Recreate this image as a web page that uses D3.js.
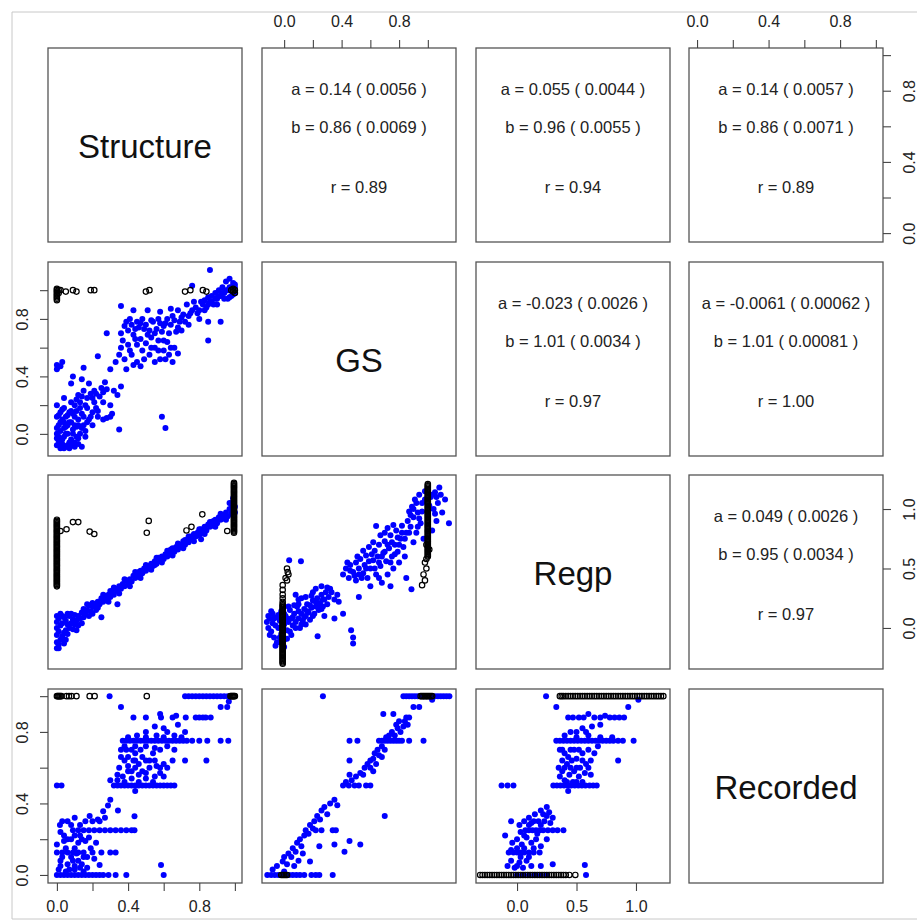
<!DOCTYPE html>
<html>
<head>
<meta charset="utf-8">
<script src="https://cdn.jsdelivr.net/npm/d3@7"></script>
<style>
  body { margin: 0; background: #fff; }
  text { font-family: "Liberation Sans", Arial, sans-serif; }
</style>
</head>
<body>
<div id="main"></div>
<script>
// variables of the pairs plot
const varNames = ["Structure", "GS", "Regp", "Recorded"];
const varDomains = [[-0.05, 1.04], [-0.154, 1.196], [-0.345, 1.286], [-0.045, 1.04]];
const ticks01 = [0, 0.2, 0.4, 0.6, 0.8, 1.0];
const labels01 = [0, 0.4, 0.8];
const ticksRegp = [0, 0.5, 1.0];

// regression text in the upper panels: [row, col, a, se(a), b, se(b), r]
const fitRows = [
  [0, 1, "0.14", "0.0056", "0.86", "0.0069", "0.89"],
  [0, 2, "0.055", "0.0044", "0.96", "0.0055", "0.94"],
  [0, 3, "0.14", "0.0057", "0.86", "0.0071", "0.89"],
  [1, 2, "-0.023", "0.0026", "1.01", "0.0034", "0.97"],
  [1, 3, "-0.0061", "0.00062", "1.01", "0.00081", "1.00"],
  [2, 3, "0.049", "0.0026", "0.95", "0.0034", "0.97"]
];

// helpers for runs of points that share one coordinate
const col = (x, ys) => ys.map(y => [x, y]);
const row = (y, xs) => xs.map(x => [x, y]);

// Structure (x) vs GS (y)
const sgBlue = [
  [0.00,-0.08],[0.01,-0.05],[0.02,-0.1],[0.03,-0.07],[0.05,-0.09],[0.0,0.0],[0.02,0.02],[0.04,-0.02],[0.06,0.0],
  [0.08,-0.04],[0.1,-0.06],[0.12,-0.03],[0.01,0.06],[0.03,0.1],[0.05,0.05],[0.07,0.08],[0.09,0.03],[0.11,0.05],
  [0.13,0.0],[0.0,0.12],[0.02,0.15],[0.04,0.18],[0.06,0.13],[0.08,0.16],[0.1,0.12],[0.12,0.1],[0.14,0.14],
  [0.15,0.06],[0.16,0.2],[0.13,0.22],[0.1,0.2],[0.07,-0.1],[0.14,-0.09],[0.0,-0.03],[0.04,0.08],[0.09,-0.08],
  [0.01,-0.02],[0.03,-0.04],[0.05,0.0],[0.07,-0.06],[0.09,0.0],[0.11,-0.02],[0.0,0.04],[0.02,0.08],[0.04,0.04],
  [0.06,0.06],[0.08,0.08],[0.1,0.06],[0.12,0.06],[0.14,0.04],[0.01,0.13],[0.03,0.17],[0.05,0.12],[0.07,0.15],
  [0.09,0.14],[0.11,0.16],[0.13,0.18],[0.15,0.12],[0.17,0.08],[0.19,0.12],[0.21,0.22],[0.23,0.16],[0.2,0.25],
  [0.22,0.28],[0.26,0.29],[0.28,0.31],[0.11,0.24],[0.14,0.26],[0.17,0.18],[0.04,0.25],[0.08,0.22],[0.0,0.2],
  [0.02,-0.07],[0.06,-0.08],[0.04,-0.1],[0.1,-0.09],[0.12,-0.07],[0.16,-0.02],[0.26,0.1],
  [0.18,0.1],[0.2,0.15],[0.22,0.18],[0.17,0.25],[0.19,0.28],[0.21,0.3],[0.24,0.26],[0.26,0.22],[0.15,0.3],
  [0.12,0.27],[0.25,0.32],[0.27,0.36],[0.23,0.12],[0.28,0.11],[0.3,0.12],[0.2,0.06],[0.16,0.02],[0.32,0.3],
  [0.36,0.33],[0.34,0.27],[0.3,0.2],[0.18,0.35],[0.14,0.38],[0.09,0.40],[0.15,0.46],[0.08,0.35],[0.0,0.48],
  [0.02,0.47],[0.03,0.5],[0.0,0.45],[0.23,0.54],[0.28,0.70],[0.36,0.89],[0.43,0.86],[0.51,0.86],[0.58,0.85],
  [0.64,0.87],[0.68,0.86],[0.35,0.03],[0.31,0.14],[0.59,0.12],[0.61,0.04],[0.3,0.45],[0.33,0.5],
  [0.38,0.75],[0.42,0.76],[0.46,0.74],[0.5,0.76],[0.54,0.78],[0.58,0.77],[0.62,0.8],[0.66,0.79],[0.7,0.81],
  [0.4,0.72],[0.45,0.78],[0.52,0.72],[0.56,0.73],[0.6,0.75],[0.64,0.76],[0.68,0.74],[0.36,0.7],[0.48,0.8],
  [0.72,0.78],[0.74,0.76],[0.36,0.6],[0.4,0.62],[0.42,0.55],[0.45,0.5],[0.48,0.58],[0.5,0.63],[0.52,0.55],
  [0.55,0.6],[0.58,0.52],[0.6,0.58],[0.63,0.55],[0.38,0.52],[0.44,0.66],[0.53,0.67],[0.57,0.65],[0.62,0.64],
  [0.66,0.6],[0.68,0.56],[0.65,0.5],[0.47,0.47],[0.39,0.45],
  [0.39,0.78],[0.41,0.8],[0.44,0.73],[0.47,0.77],[0.49,0.73],[0.53,0.79],[0.57,0.8],[0.61,0.77],[0.65,0.82],
  [0.69,0.78],[0.43,0.69],[0.47,0.66],[0.51,0.69],[0.55,0.7],[0.59,0.71],[0.63,0.7],[0.67,0.71],[0.37,0.65],
  [0.41,0.58],[0.45,0.62],[0.49,0.52],[0.53,0.6],[0.57,0.58],[0.61,0.52],[0.64,0.6],[0.35,0.55],[0.43,0.48],
  [0.55,0.5],[0.6,0.65],[0.7,0.72],
  [0.75,0.84],[0.78,0.88],[0.8,0.86],[0.82,0.9],
  [0.84,0.88],[0.86,0.92],[0.88,0.9],[0.9,0.94],[0.92,0.96],[0.94,0.98],[0.96,1.0],[0.98,1.02],[1.0,0.98],
  [0.99,1.05],[0.97,1.08],[0.95,1.06],[0.93,1.02],[0.91,1.0],[0.89,0.98],[0.87,0.96],[0.85,0.95],[0.83,0.93],
  [0.77,0.92],[0.73,0.9],[0.76,1.03],[0.86,1.14],[0.71,0.83],[1.0,1.02],[0.98,0.96],[0.96,0.94],[0.85,0.65],
  [0.92,0.78],[0.85,0.78],[0.8,0.8],
  [0.79,0.84],[0.81,0.92],[0.83,0.86],[0.85,0.9],[0.87,0.92],[0.89,0.94],[0.91,0.96],[0.93,0.98],[0.95,1.0],
  [0.97,1.02],[0.99,0.97],[1.0,1.04],[0.97,0.95],[0.94,0.94],[0.9,0.9],[0.76,0.86],[0.74,0.82]
];
const sgBlack = [
  [0,0.93],[0,0.94],[0,0.95],[0,0.96],[0,0.97],[0,0.98],[0,0.99],[0,1.0],[0,1.01],[0.01,0.98],[0.01,1.0],
  [0.02,1.0],[0.05,0.99],[0.09,1.0],[0.11,0.99],
  [0.19,1.0],[0.21,1.0],[0.5,0.99],[0.52,1.0],[0.72,0.99],[0.75,1.0],[0.82,1.0],[0.84,0.99],[0.98,1.0],
  [0.99,0.99],[0.99,1.01],[1.0,1.0],[1.0,0.98],[0.99,1.0]
];

// Structure (x) vs Regp (y)
const srBlue = [
  [0,-0.17],[0,-0.12],[0,-0.06],[0,0.0],[0,0.05],[0,0.1],[0.01,-0.14],[0.01,-0.03],[0.01,0.08],[0.02,-0.1],
  [0.02,0.02],[0.02,0.12],[0.03,-0.07],[0.03,0.04],[0.04,-0.04],[0.04,0.09],[0.05,-0.02],[0.05,0.06],
  [0.06,-0.05],[0.06,0.03],[0.07,0.0],[0.07,0.1],[0.08,0.04],[0.09,-0.01],[0.09,0.07],[0.1,0.03],[0.1,0.11],
  [0.11,0.06],[0.12,0.1],[0.12,0.02],[0.13,0.08],[0.14,0.13],[0.15,0.09],[0.15,0.16],[0.16,0.12],[0.17,0.15],
  [0.18,0.1],[0.18,0.19],[0.19,0.14],[0.2,0.18],[0.21,0.2],[0.22,0.15],[0.23,0.22],[0.24,0.2],[0.25,0.09],
  [0.25,0.25],[0.26,0.22],[0.27,0.27],[0.28,0.24],[0.29,0.28],[0.3,0.26],[0.31,0.3],[0.32,0.28],[0.33,0.33],
  [0.34,0.2],[0.34,0.31],[0.35,0.35],[0.36,0.33],[0.37,0.37],[0.38,0.35],[0.39,0.4],[0.4,0.38],[0.41,0.41],
  [0.42,0.39],[0.43,0.44],[0.44,0.42],[0.45,0.46],[0.46,0.43],[0.47,0.48],[0.48,0.46],[0.49,0.5],[0.5,0.48],
  [0.51,0.52],[0.52,0.5],[0.53,0.54],[0.54,0.52],[0.55,0.56],[0.56,0.54],[0.57,0.59],[0.58,0.56],[0.59,0.6],
  [0.6,0.58],[0.61,0.62],[0.62,0.6],[0.63,0.64],[0.64,0.62],[0.65,0.67],[0.66,0.64],[0.67,0.68],[0.68,0.66],
  [0.69,0.7],[0.7,0.68],[0.71,0.73],[0.72,0.7],[0.73,0.74],[0.74,0.72],[0.75,0.745],[0.75,0.77],[0.76,0.75],
  [0.77,0.79],[0.78,0.77],[0.79,0.8],[0.8,0.78],[0.81,0.745],[0.81,0.83],[0.82,0.8],[0.83,0.85],[0.84,0.82],
  [0.85,0.87],[0.86,0.85],[0.87,0.89],[0.88,0.86],[0.89,0.91],[0.9,0.88],[0.91,0.93],[0.92,0.91],[0.93,0.95],
  [0.94,0.92],[0.95,0.97],[0.96,0.94],[0.97,1.0],[0.98,0.96],[0.98,1.04],[0.99,0.99],[0.99,1.06],[1.0,1.02],
  [0.2,0.21],[0.3,0.31],[0.46,0.47],[0.55,0.53],[0.64,0.66],[0.72,0.74],[0.88,0.9],[0.93,0.93],
  [0.03,0.1],[0.05,-0.1],[0.08,0.12],[0.11,-0.02],[0.14,0.04],[0.17,0.2],[0.2,0.12],[0.23,0.17],[0.26,0.28],
  [0.29,0.22],[0.32,0.34],[0.35,0.29],[0.38,0.41],[0.41,0.35],[0.44,0.47],[0.47,0.42],[0.5,0.53],[0.53,0.49],
  [0.56,0.59],[0.59,0.55],[0.62,0.65],[0.65,0.61],[0.68,0.71],[0.71,0.67],[0.74,0.77],[0.77,0.73],[0.8,0.83],
  [0.83,0.79],[0.86,0.89],[0.89,0.85],[0.92,0.96],[0.95,0.91],[0.97,1.05],[1.0,0.97],[0.99,1.09],[0.06,0.12],
  [0.01,-0.17],[0.04,-0.13]
];
const srBlack = [
  ...col(0, [0.35,0.36,0.37,0.38,0.39,0.4,0.41,0.42,0.43,0.44,0.45,0.46,0.47,0.48,0.49,0.5,0.51,0.52,0.53,
             0.54,0.55,0.56,0.57,0.58,0.59,0.6,0.61,0.62,0.63,0.64,0.65,0.66,0.67,0.68,0.69,0.7,0.71,0.72,
             0.73,0.74,0.75,0.76,0.77,0.78,0.79,0.8,0.81,0.82,0.83,0.84,0.85,0.86,0.87,0.88,0.89,0.9,0.91]),
  ...col(0.995, [0.8,0.81,0.82,0.83,0.84,0.85,0.86,0.87,0.88,0.89,0.9,0.91,0.92,0.93,0.94,0.95,0.96,0.97,0.98,
                 0.99,1.0,1.01,1.02,1.03,1.04,1.05,1.06,1.07,1.08,1.09,1.1,1.11,1.12,1.13,1.14,1.15,1.16,1.17,
                 1.18,1.19,1.2,1.21,1.22]),
  [0.02,0.815],[0.054,0.83],[0.09,0.89],[0.12,0.89],[0.184,0.81],[0.21,0.79],[0.516,0.9],[0.505,0.8],
  [0.728,0.82],[0.756,0.85],[0.817,0.955],[0.957,0.815]
];

// GS (x) vs Regp (y)
const grBlue = [
  [-0.12,0.05],[-0.11,0.0],[-0.1,0.08],[-0.09,-0.03],[-0.08,0.04],[-0.08,0.12],[-0.07,-0.08],[-0.06,0.02],
  [-0.05,0.09],[-0.05,-0.12],[-0.04,0.0],[-0.03,0.06],[-0.02,-0.05],[-0.02,0.14],[0.0,0.03],[0.0,-0.1],
  [0.01,0.1],[0.02,-0.02],[0.03,0.05],[0.04,0.15],[0.05,-0.06],[0.05,0.08],[0.06,0.02],[0.07,0.12],[0.08,0.05],
  [0.09,0.18],[0.1,0.08],[0.11,0.0],[0.12,0.12],[0.13,0.06],[0.14,0.16],[0.15,0.1],[0.16,0.2],[0.17,0.13],
  [0.18,0.07],[0.19,0.17],[0.2,0.23],[0.21,0.12],[0.22,0.18],[0.23,0.25],[0.24,0.15],[0.25,0.21],[0.26,0.28],
  [0.27,0.18],[0.28,0.24],[0.29,0.3],[0.3,0.2],[0.31,0.26],[0.33,0.3],[0.35,0.24],[0.37,0.28],[0.38,0.22],
  [0.1,0.2],[0.12,0.25],[0.2,0.3],[0.22,0.33],[0.26,0.35],[0.3,0.34],[0.08,0.28],[0.035,0.57],[0.117,0.56],
  [0.233,-0.07],[0.35,0.08],[0.41,0.12],[0.466,-0.02],[0.48,-0.08],[0.48,-0.13],[0.52,0.26],[0.0,-0.16],
  [-0.06,-0.15],[0.15,0.03],[0.28,0.1],
  [-0.1,-0.06],[-0.07,0.08],[-0.04,0.11],[-0.03,-0.08],[-0.01,0.02],[0.02,0.08],[0.04,-0.03],[0.06,0.09],
  [0.08,0.0],[0.1,0.14],[0.12,0.03],[0.14,0.09],[0.16,0.14],[0.18,0.19],[0.2,0.1],[0.22,0.22],[0.24,0.19],
  [0.26,0.16],[0.03,0.18],[0.07,0.19],[-0.11,0.1],[-0.09,0.14],[0.0,0.12],[0.1,0.24],[0.15,0.26],[0.27,0.24],
  [0.32,0.33],[0.19,0.27],[0.02,-0.09],[-0.03,-0.12],
  [0.41,0.45],[0.43,0.5],[0.45,0.42],[0.46,0.53],[0.48,0.47],[0.5,0.55],[0.5,0.4],[0.52,0.5],[0.53,0.58],
  [0.55,0.46],[0.56,0.53],[0.57,0.61],[0.58,0.42],[0.6,0.5],[0.6,0.35],[0.62,0.57],[0.63,0.65],[0.64,0.45],
  [0.65,0.6],[0.66,0.7],[0.67,0.52],[0.68,0.38],[0.69,0.63],[0.7,0.73],[0.71,0.56],[0.72,0.45],[0.73,0.67],
  [0.74,0.78],[0.75,0.6],[0.76,0.5],[0.77,0.7],[0.78,0.82],[0.79,0.64],[0.8,0.55],[0.81,0.75],[0.82,0.86],
  [0.83,0.68],[0.84,0.6],[0.85,0.42],[0.886,0.325],[0.64,0.857],[0.76,0.865],[0.55,0.65],[0.59,0.68],
  [0.62,0.72],[0.7,0.8],[0.72,0.84],[0.66,0.42],[0.74,0.35],
  [0.46,0.48],[0.49,0.44],[0.51,0.6],[0.54,0.42],[0.57,0.5],[0.59,0.56],[0.61,0.62],[0.63,0.5],[0.66,0.55],
  [0.68,0.6],[0.7,0.64],[0.72,0.7],[0.75,0.72],[0.77,0.62],[0.79,0.76],[0.8,0.7],[0.82,0.8],[0.84,0.75],
  [0.44,0.55],[0.52,0.45],[0.67,0.78],[0.74,0.55],
  [0.86,0.9],[0.87,0.98],[0.88,0.85],[0.89,1.02],[0.9,0.93],[0.91,1.08],[0.92,0.8],[0.93,0.97],[0.94,1.12],
  [0.95,0.88],[0.96,1.05],[0.97,0.75],[0.98,1.15],[1.0,0.95],[1.02,1.1],[1.03,0.82],[1.04,1.0],[1.05,1.14],
  [1.06,0.9],[1.07,1.05],[1.08,1.18],[1.1,0.97],[1.12,1.08],[1.147,0.88],[0.9,0.72],[0.85,0.8],
  [0.88,0.95],[0.9,1.0],[0.92,1.05],[0.94,0.92],[0.96,0.98],[0.98,1.08],[1.01,1.03],[1.03,1.12],[1.05,0.96],
  [1.06,1.1],[1.09,1.12],[0.87,0.8],[0.93,0.85]
];
const grBlack = [
  ...col(-0.01, [-0.3,-0.29,-0.28,-0.27,-0.26,-0.25,-0.24,-0.23,-0.22,-0.21,-0.2,-0.19,-0.18,-0.17,-0.16,-0.15,
                 -0.14,-0.13,-0.12,-0.11,-0.1,-0.09,-0.08,-0.07,-0.06,-0.05,-0.04,-0.03,-0.02,-0.01,0.0,0.01,
                 0.02,0.03,0.04,0.05,0.06,0.07,0.08,0.09,0.1,0.11,0.12,0.13,0.14,0.15,0.16,0.17,0.18,0.19,0.2,
                 0.22,0.25,0.28,0.32,0.36]),
  [0.02,0.5],[0.03,0.45],[0.02,0.4],[0.025,0.47],[0.01,0.42],
  ...col(1.0, [0.6,0.61,0.62,0.63,0.64,0.65,0.66,0.67,0.68,0.69,0.7,0.71,0.72,0.73,0.74,0.75,0.76,0.77,0.78,
               0.79,0.8,0.81,0.82,0.83,0.84,0.85,0.86,0.87,0.88,0.89,0.9,0.91,0.92,0.93,0.94,0.95,0.96,0.97,
               0.98,0.99,1.0,1.01,1.02,1.03,1.04,1.05,1.06,1.07,1.08,1.09,1.1,1.11,1.12,1.13,1.14,1.15,1.16,
               1.17,1.18,1.19,1.2,1.21]),
  [0.98,0.55],[0.99,0.5],[0.97,0.45],[0.98,0.4],[0.96,0.36],[0.99,0.58],[1.01,0.66],[0.99,0.7]
];

// Structure (x) vs Recorded (y)
const sdBlue = [
  [0.296,1],...row(1, [0.72,0.74,0.76,0.78,0.8,0.82,0.84,0.86,0.88,0.9,0.92,0.94,0.96]),
  [0.966,0.97],[0.36,0.94],[0.92,0.94],[0.957,0.94],
  [0.43,0.88],[0.5,0.88],[0.585,0.88],[0.58,0.9],[0.65,0.88],[0.67,0.89],[0.724,0.88],[0.78,0.88],[0.8,0.88],
  [0.82,0.88],[0.836,0.88],[0.864,0.88],[0.68,0.84],[0.6,0.82],[0.5,0.8],[0.55,0.83],[0.62,0.8],[0.72,0.8],
  ...row(0.75, [0.37,0.39,0.41,0.43,0.45,0.47,0.49,0.51,0.53,0.55,0.57,0.59,0.61,0.63,0.65,0.67,0.69,0.71,
                0.73,0.76,0.8,0.845,0.92,0.963]),
  [0.4,0.77],[0.45,0.78],[0.5,0.77],[0.56,0.78],[0.6,0.77],[0.66,0.78],[0.7,0.77],
  [0.36,0.7],[0.38,0.72],[0.42,0.7],[0.47,0.7],[0.38,0.64],[0.4,0.66],[0.43,0.64],[0.5,0.64],[0.55,0.64],
  [0.65,0.64],[0.72,0.64],[0.84,0.64],[0.35,0.6],[0.4,0.58],[0.44,0.6],[0.48,0.58],[0.52,0.6],[0.58,0.6],
  [0.37,0.55],[0.42,0.54],[0.46,0.56],[0.5,0.54],[0.55,0.55],[0.6,0.55],[0.38,0.52],[0.46,0.62],[0.54,0.68],
  [0.58,0.7],[0.44,0.68],
  [0.36,0.66],[0.4,0.61],[0.44,0.64],[0.48,0.66],[0.52,0.64],[0.56,0.61],[0.6,0.62],[0.42,0.58],[0.46,0.52],
  [0.5,0.57],[0.54,0.52],[0.58,0.57],[0.34,0.56],[0.62,0.6],[0.39,0.7],[0.44,0.72],[0.5,0.72],[0.55,0.71],
  [0.62,0.72],[0.66,0.7],
  ...row(0.5, [0.32,0.34,0.36,0.38,0.4,0.42,0.44,0.46,0.48,0.5,0.52,0.54,0.56,0.58,0.6,0.62,0.64,0.66]),
  [0,0.5],[0.026,0.5],[0.44,0.47],[0.3,0.53],[0.34,0.53],
  ...row(0, [0,0.02,0.04,0.06,0.08,0.1,0.12,0.14,0.16,0.18,0.2,0.22,0.24,0.26,0.29,0.33,0.39,0.6]),
  [0.24,0.056],[0.585,0.056],[0.02,0.05],[0.06,0.06],[0.1,0.05],[0.14,0.06],
  ...row(0.125, [0,0.03,0.06,0.09,0.12,0.15,0.2,0.25,0.3,0.33]),
  [0,0.17],[0.04,0.19],[0.08,0.2],[0.12,0.18],[0.16,0.19],[0.05,0.15],[0.1,0.15],
  ...row(0.25, [0.09,0.12,0.15,0.18,0.21,0.24,0.27,0.3,0.33,0.36,0.39,0.42,0.436]),
  [0.017,0.28],[0.06,0.3],[0.1,0.32],[0.13,0.28],[0.16,0.3],[0.2,0.3],[0.184,0.33],[0.26,0.356],[0.343,0.36],
  [0.287,0.388],[0.436,0.328],[0.3,0.42],[0.23,0.31],[0.02,0.08],[0.08,0.1],[0.12,0.08],[0.17,0.1],
  [0.21,0.09],[0.05,0.02],[0.1,0.03],[0.15,0.02],[0.04,0.22],[0.13,0.22],[0.18,0.21],[0.02,0.24],
  [0.01,0.03],[0.03,0.1],[0.07,0.03],[0.09,0.08],[0.11,0.12],[0.13,0.04],[0.15,0.1],[0.17,0.04],[0.19,0.15],
  [0.22,0.18],[0.06,0.2],[0.1,0.22],[0.14,0.2],[0.03,0.3],[0.08,0.28],[0.24,0.3],[0.27,0.32]
];
const sdBlack = row(1, [0,0.005,0.01,0.015,0.02,0.026,0.054,0.068,0.082,0.11,0.184,0.212,0.505,0.975,0.98,0.985,
                        0.99,0.995,1.0]);

// GS (x) vs Recorded (y)
const gdBlue = [
  [0.27,1],...row(1, [0.83,0.85,0.87,0.89,0.91,0.93,0.95,0.97,0.99,1.01,1.03,1.05,1.07,1.09,1.11,1.13,1.15]),
  [1.03,0.98],[0.9,0.94],[0.94,0.94],[0.69,0.9],[0.76,0.9],[0.85,0.88],[0.87,0.88],[0.84,0.86],[0.86,0.84],
  [0.79,0.82],[0.81,0.8],[0.83,0.83],[0.455,0.75],[0.51,0.75],
  ...row(0.75, [0.66,0.68,0.7,0.72,0.74,0.76,0.78,0.8,0.82,0.87,0.97]),
  [0.41,0.5],[0.43,0.52],[0.45,0.5],[0.47,0.53],[0.49,0.5],[0.5,0.55],[0.52,0.5],[0.53,0.57],[0.55,0.56],
  [0.56,0.6],[0.58,0.62],[0.6,0.6],[0.6,0.64],[0.62,0.65],[0.63,0.68],[0.65,0.7],[0.66,0.67],[0.68,0.72],
  [0.7,0.7],[0.71,0.77],[0.73,0.78],[0.75,0.8],[0.77,0.78],[0.78,0.84],[0.8,0.86],[0.455,0.64],[0.455,0.56],
  [0.6,0.5],[0.57,0.5],[0.7,0.33],[0.62,0.58],[0.64,0.62],[0.68,0.66],
  ...row(0, [-0.117,-0.09,-0.065,-0.04,-0.015,0.01,0.035,0.06,0.085,0.11,0.14,0.19,0.22,0.245,0.338]),
  [-0.08,0.03],[-0.05,0.05],[-0.01,0.075],[0.02,0.06],[0.0,0.1],[0.03,0.12],[0.05,0.1],[0.06,0.15],[0.08,0.13],
  [0.09,0.18],[0.11,0.2],[0.12,0.16],[0.14,0.22],[0.15,0.25],[0.17,0.23],[0.18,0.28],[0.2,0.26],[0.21,0.3],
  [0.23,0.33],[0.25,0.31],[0.26,0.36],[0.28,0.38],[0.3,0.34],[0.32,0.4],[0.35,0.42],[0.37,0.39],[0.18,0.075],
  [0.245,0.16],[0.35,0.17],[0.455,0.19],[0.53,0.17],[0.42,0.13],[0.338,0.25],[0.36,0.25],[0.22,0.25],
  [0.26,0.25],[0.07,0.05],[0.1,0.08],[0.13,0.12],[0.0,0.02]
];
const gdBlack = [...row(1, [0.95,0.96,0.97,0.98,0.99,1.0,1.01,1.02,1.03]), ...row(0, [-0.02,-0.01,0.0,0.01,0.02])];

// Regp (x) vs Recorded (y)
const rdBlue = [
  [0.244,1],[1.02,0.98],[0.33,0.94],[0.935,0.94],
  ...row(0.88, [0.43,0.47,0.52,0.56,0.65,0.7,0.78,0.82,0.86,0.9]),
  [0.6,0.9],[0.74,0.89],[0.63,0.83],[0.7,0.84],[0.55,0.82],[0.5,0.8],
  ...row(0.75, [0.33,0.36,0.39,0.42,0.45,0.48,0.51,0.54,0.57,0.6,0.63,0.66,0.69,0.72,0.75,0.78,0.81,0.85,0.89,0.98]),
  [0.4,0.78],[0.5,0.77],[0.6,0.78],[0.7,0.77],[0.8,0.77],
  [0.36,0.7],[0.4,0.68],[0.45,0.7],[0.52,0.7],[0.6,0.7],[0.38,0.64],[0.42,0.62],[0.46,0.64],[0.5,0.6],
  [0.55,0.64],[0.62,0.64],[0.85,0.64],[0.38,0.58],[0.44,0.56],[0.48,0.58],[0.52,0.55],[0.57,0.57],[0.4,0.53],
  [0.47,0.52],[0.35,0.6],[0.62,0.56],
  [0.38,0.7],[0.43,0.66],[0.48,0.7],[0.55,0.68],[0.58,0.62],[0.4,0.6],[0.45,0.6],[0.5,0.65],[0.53,0.6],
  [0.36,0.55],[0.42,0.52],[0.5,0.52],[0.55,0.52],[0.6,0.6],[0.65,0.68],[0.68,0.72],[0.45,0.8],[0.58,0.8],
  ...row(0.5, [0.305,0.335,0.365,0.395,0.425,0.455,0.485,0.515,0.545,0.575,0.61,0.64,0.67,-0.13,-0.08,-0.03]),
  [0.43,0.47],
  ...row(0, [0.0,0.05,0.1,0.15,0.2,0.25,0.58]),[0.57,0.056],
  [-0.08,0.05],[-0.05,0.08],[-0.02,0.04],[0.02,0.07],[0.05,0.04],[0.08,0.08],[0.12,0.05],[0.2,0.05],[0.3,0.06],
  ...row(0.125, [-0.07,-0.03,0.0,0.03,0.06,0.1,0.14,0.19]),
  [-0.04,0.18],[0.0,0.2],[0.04,0.17],[0.08,0.21],[0.12,0.18],[0.16,0.2],[0.2,0.16],[0.25,0.2],[-0.1,0.22],
  ...row(0.25, [0.07,0.1,0.13,0.16,0.19,0.22,0.26,0.3,0.34,0.39]),
  [0.02,0.28],[0.06,0.3],[0.1,0.32],[0.12,0.29],[0.15,0.34],[0.18,0.3],[0.2,0.36],[0.22,0.34],[0.25,0.38],
  [0.27,0.35],[0.3,0.32],[-0.05,0.3],
  [0.0,0.05],[0.03,0.1],[0.06,0.15],[0.1,0.1],[0.14,0.15],[0.17,0.23],[0.2,0.28],[0.23,0.3],[0.1,0.28],
  [0.14,0.3],[0.06,0.22],[0.0,0.15],[-0.05,0.14],[0.03,0.24],[0.25,0.33],[0.28,0.29]
];
const rdBlack = [
  ...row(1, [0.36,0.375,0.39,0.41,0.43,0.45,0.47,0.49,0.51,0.53,0.55,0.57,0.59,0.61,0.63,0.65,0.67,0.69,0.71,
             0.73,0.75,0.77,0.79,0.81,0.83,0.85,0.87,0.89,0.91,0.93,0.95,0.97,0.99,1.01,1.03,1.05,1.07,1.09,
             1.11,1.13,1.15,1.17,1.19,1.21,1.23]),
  ...row(0, [-0.31,-0.29,-0.27,-0.25,-0.23,-0.21,-0.19,-0.17,-0.15,-0.13,-0.11,-0.09,-0.07,-0.05,-0.03,-0.01,
             0.01,0.03,0.05,0.07,0.09,0.11,0.13,0.15,0.17,0.19,0.21,0.23,0.25,0.27,0.29,0.31,0.33,0.35,0.37,
             0.39,0.41,0.44,0.49])
];

// lower panels: [row, col, blue, black]
const scatterPanels = [
  [1, 0, sgBlue, sgBlack],
  [2, 0, srBlue, srBlack],
  [2, 1, grBlue, grBlack],
  [3, 0, sdBlue, sdBlack],
  [3, 1, gdBlue, gdBlack],
  [3, 2, rdBlue, rdBlack]
];

const W = 917, H = 922;
const X0 = [48, 262, 476, 689], Y0 = [48, 262, 475, 689], S = 194;

const svg = d3.select("#main").append("svg").attr("width", W).attr("height", H);

// outer light frame of the original image
svg.append("path")
  .attr("d", `M${W + 2},12 H12 V919 H${W + 2}`)
  .attr("fill", "none").attr("stroke", "#c8c8c8").attr("stroke-width", 1);

function xScale(j) { return d3.scaleLinear().domain(varDomains[j]).range([X0[j], X0[j] + S]); }
function yScale(i) { return d3.scaleLinear().domain(varDomains[i]).range([Y0[i] + S, Y0[i]]); }

// scatter points
scatterPanels.forEach(([i, j, blue, black]) => {
  const x = xScale(j), y = yScale(i);
  const g = svg.append("g");
  g.selectAll("circle.b").data(blue).join("circle").attr("class", "b")
    .attr("cx", d => x(d[0])).attr("cy", d => y(d[1])).attr("r", 3)
    .attr("fill", "#0000ff");
  g.selectAll("circle.k").data(black).join("circle").attr("class", "k")
    .attr("cx", d => x(d[0])).attr("cy", d => y(d[1])).attr("r", 2.7)
    .attr("fill", "none").attr("stroke", "#000").attr("stroke-width", 1.2);
});

// diagonal labels
varNames.forEach((name, k) => {
  svg.append("text")
    .attr("x", X0[k] + S / 2).attr("y", Y0[k] + S / 2 + 1)
    .attr("text-anchor", "middle").attr("dominant-baseline", "central")
    .attr("font-size", 33).attr("fill", "#111").text(name);
});

// regression text in upper panels
fitRows.forEach(([i, j, a, sa, b, sb, r]) => {
  const cx = X0[j] + S / 2;
  const lines = [[`a = ${a} ( ${sa} )`, 41], [`b = ${b} ( ${sb} )`, 79], [`r = ${r}`, 139]];
  lines.forEach(([t, dy]) => {
    svg.append("text").attr("x", cx).attr("y", Y0[i] + dy)
      .attr("text-anchor", "middle").attr("dominant-baseline", "central")
      .attr("font-size", 16.5).attr("fill", "#222").text(t);
  });
});

// panel frames
for (let i = 0; i < 4; i++) {
  for (let j = 0; j < 4; j++) {
    svg.append("rect").attr("x", X0[j]).attr("y", Y0[i]).attr("width", S).attr("height", S)
      .attr("fill", "none").attr("stroke", "#555").attr("stroke-width", 1.3);
  }
}

// axes
const fmt = d3.format(".1f");
function ticksFor(k) { return k === 2 ? ticksRegp : ticks01; }
function labelsFor(k) { return k === 2 ? ticksRegp : labels01; }

function drawAxis(side, k) {
  let axis, tr;
  const lab = labelsFor(k);
  if (side === "top") { axis = d3.axisTop(xScale(k)); tr = `translate(0,${Y0[0]})`; }
  if (side === "bottom") { axis = d3.axisBottom(xScale(k)); tr = `translate(0,${Y0[3] + S})`; }
  if (side === "left") { axis = d3.axisLeft(yScale(k)); tr = `translate(${X0[0]},0)`; }
  if (side === "right") { axis = d3.axisRight(yScale(k)); tr = `translate(${X0[3] + S},0)`; }
  axis.tickValues(ticksFor(k)).tickSize(8)
    .tickFormat(d => lab.some(v => Math.abs(v - d) < 1e-9) ? fmt(d) : "");
  const g = svg.append("g").attr("transform", tr).call(axis);
  g.select(".domain").remove();
  g.selectAll(".tick line").attr("stroke", "#444").attr("stroke-width", 1.1);
  const txt = g.selectAll(".tick text").attr("font-size", 16).attr("fill", "#222")
    .attr("font-family", "'Liberation Sans', Arial, sans-serif");
  if (side === "top") txt.attr("y", -21).attr("dy", "0");
  if (side === "bottom") txt.attr("y", 29).attr("dy", "0");
  if (side === "left") txt.attr("x", 0).attr("y", -20).attr("dy", "0")
    .attr("text-anchor", "middle").attr("transform", "rotate(-90)");
  if (side === "right") txt.attr("x", 0).attr("y", 32).attr("dy", "0")
    .attr("text-anchor", "middle").attr("transform", "rotate(-90)");
}

drawAxis("top", 1);
drawAxis("top", 3);
drawAxis("bottom", 0);
drawAxis("bottom", 2);
drawAxis("left", 1);
drawAxis("left", 3);
drawAxis("right", 0);
drawAxis("right", 2);
</script>
</body>
</html>
